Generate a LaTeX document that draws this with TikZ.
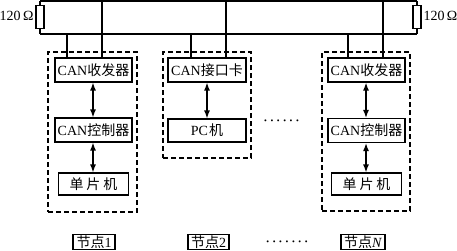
\documentclass[tikz,border=0pt]{standalone}
\usepackage{fontspec}
\setmainfont{Liberation Serif}
\newfontfamily\cjk{Noto Sans CJK SC}
\usetikzlibrary{arrows.meta}
\begin{document}
\begin{tikzpicture}[x=1pt,y=-1pt,line width=1.1pt,
  box/.style={draw,fill=white,inner sep=0pt,minimum width=77pt,minimum height=24pt,font=\fontsize{14}{16}\selectfont},
  mcu/.style={box,minimum width=70pt,minimum height=22pt},
  grp/.style={draw,dash pattern=on 5pt off 3pt,inner sep=0pt},
  lbl/.style={draw,inner sep=0pt,minimum height=15pt,font=\fontsize{14}{16}\selectfont},
  res/.style={draw,fill=white,inner sep=0pt,minimum width=8pt,minimum height=23pt},
  txt/.style={inner sep=0pt,font=\fontsize{14}{16}\selectfont},
  dotrow/.style={inner sep=0pt,font=\fontsize{8}{10}\selectfont},
  dbl/.style={{Latex[length=8pt,width=6pt]}-{Latex[length=8pt,width=6pt]},line width=1.4pt}
]
\useasboundingbox (0,0) rectangle (457,250);
% bus
\coordinate (tl) at (40,1);
\coordinate (tr) at (417,1);
\coordinate (bl) at (40,34);
\coordinate (br) at (417,34);
\draw (tl) -- (tr);
\draw (bl) -- (br);
\draw (tl) -- (bl);
\draw (tr) -- (br);
\node[res] (r1) at (40,17) {};
\node[res] (r2) at (417,17) {};
\node[txt,anchor=east] (r1l) at (34,16) {120\,Ω};
\node[txt,anchor=west] (r2l) at (423,16) {120\,Ω};
% groups
\node[grp,minimum width=89pt,minimum height=160pt] (g1) at (92.5,132) {};
\node[grp,minimum width=88pt,minimum height=106pt] (g2) at (207,105) {};
\node[grp,minimum width=88pt,minimum height=159pt] (gN) at (366,131.5) {};
% node 1
\node[box] (n1t) at (93.5,70) {CAN{\cjk 收发器}};
\node[box] (n1c) at (93.5,130) {CAN{\cjk 控制器}};
\node[mcu] (n1m) at (93.5,184) {{\cjk 单\hspace{3pt}片\hspace{3pt}机}};
\draw[dbl] ([xshift=-0.5pt]n1t.south) -- ([xshift=-0.5pt]n1c.north);
\draw[dbl] ([xshift=-0.5pt]n1c.south) -- ([xshift=-0.5pt]n1m.north);
% node 2
\node[box,minimum width=78pt] (n2t) at (207,70) {CAN{\cjk 接口卡}};
\node[box,minimum width=78pt,minimum height=23pt] (n2p) at (207,130.5) {PC\hspace{1pt}{\cjk 机}};
\draw[dbl] (n2t) -- (n2p);
% node N
\node[box] (nNt) at (366.5,70) {CAN{\cjk 收发器}};
\node[box] (nNc) at (366.5,130.5) {CAN{\cjk 控制器}};
\node[mcu] (nNm) at (366.5,184) {{\cjk 单\hspace{3pt}片\hspace{3pt}机}};
\draw[dbl] ([xshift=-0.5pt]nNt.south) -- ([xshift=-0.5pt]nNc.north);
\draw[dbl] ([xshift=-0.5pt]nNc.south) -- ([xshift=-0.5pt]nNm.north);
% bus taps
\coordinate (a1) at (67,34);
\coordinate (b1) at (102,1);
\coordinate (a2) at (191,34);
\coordinate (b2) at (226,1);
\coordinate (aN) at (348,34);
\coordinate (bN) at (383,1);
\draw (a1) -- (n1t.north -| a1);
\draw (b1) -- (n1t.north -| b1);
\draw (a2) -- (n2t.north -| a2);
\draw (b2) -- (n2t.north -| b2);
\draw (aN) -- (nNt.north -| aN);
\draw (bN) -- (nNt.north -| bN);
% dots
\node[dotrow] (d1) at (281.5,122) {•\hspace{3.6pt}•\hspace{3.6pt}•\hspace{3.6pt}•\hspace{3.6pt}•\hspace{3.6pt}•};
\node[dotrow] (d2) at (287,243) {•\hspace{3.6pt}•\hspace{3.6pt}•\hspace{3.6pt}•\hspace{3.6pt}•\hspace{3.6pt}•\hspace{3.6pt}•};
% labels
\node[lbl,minimum width=42pt] (l1) at (94,242) {{\cjk 节点}1};
\node[lbl,minimum width=41pt] (l2) at (208.5,242) {{\cjk 节点}2};
\node[lbl,minimum width=44pt] (lN) at (363,242) {{\cjk 节点}\textit{N}};
\end{tikzpicture}
\end{document}
